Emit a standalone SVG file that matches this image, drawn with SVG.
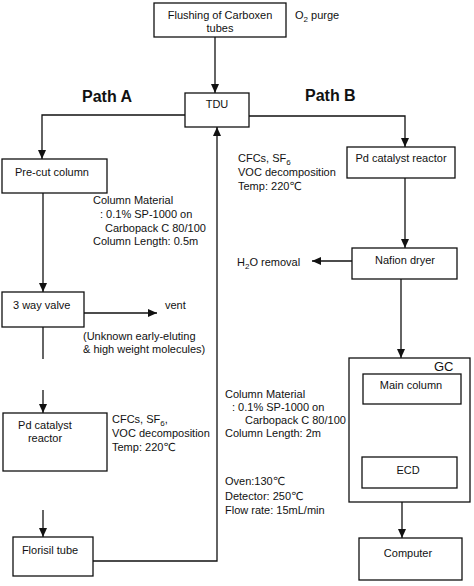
<svg xmlns="http://www.w3.org/2000/svg" width="474" height="586" viewBox="0 0 474 586">
<style>
.box{fill:#fff;stroke:#111;stroke-width:1.3}
.ln{fill:none;stroke:#111;stroke-width:1.3}
text{font-family:"Liberation Sans",Arial,"DejaVu Sans",sans-serif;font-size:11px;fill:#111}
.c{text-anchor:middle}
.h{font-size:16px;font-weight:bold}
.gc{font-size:13px}
.sub{font-size:8px}
</style>
<defs>
<marker id="ah" markerUnits="userSpaceOnUse" markerWidth="10" markerHeight="10" refX="9" refY="5" orient="auto">
<path d="M0,1 L9,5 L0,9 Z" fill="#111"/>
</marker>
</defs>
<rect width="474" height="586" fill="#fff"/>
<g id="connectors">
<line class="ln" x1="215" y1="37" x2="215" y2="93" marker-end="url(#ah)"/>
<polyline class="ln" points="185,115 42,115 42,159" marker-end="url(#ah)"/>
<line class="ln" x1="43" y1="193" x2="43" y2="292" marker-end="url(#ah)"/>
<line class="ln" x1="84" y1="313" x2="157" y2="313" marker-end="url(#ah)"/>
<line class="ln" x1="43" y1="327" x2="43" y2="359"/>
<line class="ln" x1="43" y1="390" x2="43" y2="413" marker-end="url(#ah)"/>
<line class="ln" x1="43" y1="510" x2="43" y2="537" marker-end="url(#ah)"/>
<polyline class="ln" points="93,561 217,561 217,127" marker-end="url(#ah)"/>
<polyline class="ln" points="249,116 405,116 405,147" marker-end="url(#ah)"/>
<line class="ln" x1="405" y1="178" x2="405" y2="248" marker-end="url(#ah)"/>
<line class="ln" x1="352" y1="261" x2="312" y2="261" marker-end="url(#ah)"/>
<line class="ln" x1="401" y1="279" x2="401" y2="358" marker-end="url(#ah)"/>
<line class="ln" x1="405" y1="404" x2="405" y2="457" marker-end="url(#ah)"/>
<line class="ln" x1="402" y1="502" x2="402" y2="538" marker-end="url(#ah)"/>
</g>
<g id="flushing">
<rect class="box" x="154" y="3" width="132" height="34"/>
<text class="c" x="220" y="19">Flushing of Carboxen</text>
<text class="c" x="220" y="32">tubes</text>
</g>
<g id="o2purge"><text x="295" y="19">O<tspan class="sub" dy="3">2</tspan><tspan dy="-3"> purge</tspan></text></g>
<g id="pathA"><text class="h" x="82" y="102">Path A</text></g>
<g id="pathB"><text class="h" x="305" y="101">Path B</text></g>
<g id="tdu">
<rect class="box" x="185" y="93" width="64" height="34"/>
<text class="c" x="217" y="108">TDU</text>
</g>
<g id="precut">
<rect class="box" x="2" y="159" width="105" height="34"/>
<text x="15" y="176">Pre-cut column</text>
</g>
<g id="precut-note">
<text x="93" y="204">Column Material</text>
<text x="100" y="218">: 0.1% SP-1000 on</text>
<text x="105" y="232">Carbopack C 80/100</text>
<text x="93" y="245">Column Length: 0.5m</text>
</g>
<g id="valve">
<rect class="box" x="2" y="292" width="82" height="35"/>
<text x="13" y="309">3 way valve</text>
</g>
<g id="vent"><text x="165" y="309">vent</text></g>
<g id="vent-note">
<text x="83" y="340">(Unknown early-eluting</text>
<text x="83" y="353">&amp; high weight molecules)</text>
</g>
<g id="pdA">
<rect class="box" x="3" y="413" width="104" height="58"/>
<text class="c" x="45" y="429">Pd catalyst</text>
<text class="c" x="45" y="442">reactor</text>
</g>
<g id="pdA-note">
<text x="112" y="423">CFCs, SF<tspan class="sub" dy="3">6</tspan><tspan dy="-3">,</tspan></text>
<text x="112" y="437">VOC decomposition</text>
<text x="112" y="451">Temp: 220℃</text>
</g>
<g id="florisil">
<rect class="box" x="13" y="537" width="80" height="39"/>
<text class="c" x="50" y="554">Florisil tube</text>
</g>
<g id="main-note">
<text x="225" y="398">Column Material</text>
<text x="232" y="411">: 0.1% SP-1000 on</text>
<text x="245" y="424">Carbopack C 80/100</text>
<text x="225" y="437">Column Length: 2m</text>
<text x="225" y="485">Oven:130℃</text>
<text x="225" y="500">Detector: 250℃</text>
<text x="225" y="514">Flow rate: 15mL/min</text>
</g>
<g id="pdB-note">
<text x="238" y="162">CFCs, SF<tspan class="sub" dy="3">6</tspan></text>
<text x="238" y="176">VOC decomposition</text>
<text x="238" y="190">Temp: 220℃</text>
</g>
<g id="pdB">
<rect class="box" x="347" y="147" width="108" height="31"/>
<text class="c" x="401" y="162">Pd catalyst reactor</text>
</g>
<g id="nafion">
<rect class="box" x="352" y="248" width="105" height="31"/>
<text class="c" x="405" y="264">Nafion dryer</text>
</g>
<g id="h2o"><text x="237" y="266">H<tspan class="sub" dy="3">2</tspan><tspan dy="-3">O removal</tspan></text></g>
<g id="gc">
<rect class="box" x="349" y="358" width="121" height="144"/>
<text class="gc" x="434" y="371">GC</text>
</g>
<g id="maincol">
<rect class="box" x="363" y="374" width="98" height="30"/>
<text class="c" x="411" y="389">Main column</text>
</g>
<g id="ecd">
<rect class="box" x="362" y="457" width="95" height="31"/>
<text class="c" x="408" y="474">ECD</text>
</g>
<g id="computer">
<rect class="box" x="359" y="538" width="103" height="42"/>
<text class="c" x="408" y="557">Computer</text>
</g>
</svg>
